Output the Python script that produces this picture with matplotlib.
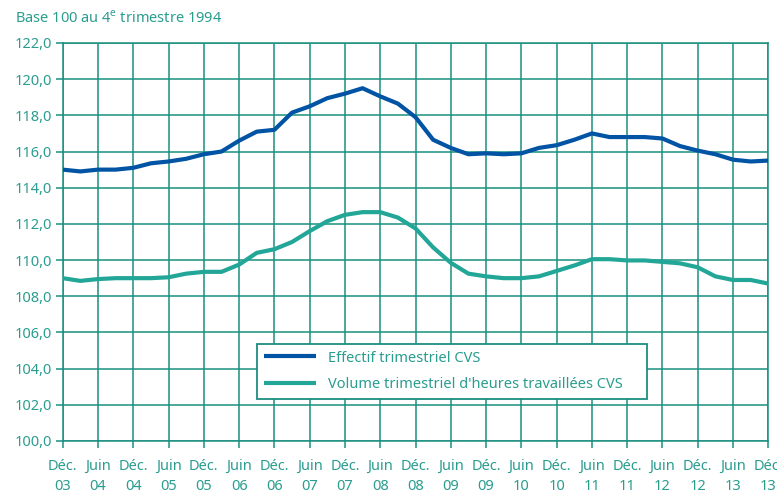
import matplotlib
matplotlib.use("Agg")
import matplotlib.pyplot as plt
from matplotlib.ticker import MultipleLocator, FixedLocator

plt.rcParams['font.family'] = ['Noto Sans', 'DejaVu Sans']
plt.rcParams['mathtext.fontset'] = 'custom'
plt.rcParams['mathtext.rm'] = 'Noto Sans'

# Quarterly data, Dec 2003 .. Dec 2013 (41 quarters)
effectif = [115.0, 114.9, 115.0, 115.0, 115.1, 115.35, 115.45, 115.6, 115.85, 116.0,
            116.6, 117.1, 117.2, 118.15, 118.5, 118.95, 119.2, 119.5, 119.05, 118.65,
            117.9, 116.65, 116.2, 115.85, 115.9, 115.85, 115.9, 116.2, 116.35, 116.65,
            117.0, 116.8, 116.8, 116.8, 116.72, 116.3, 116.05, 115.85, 115.55, 115.45,
            115.5]
volume = [109.0, 108.85, 108.95, 109.0, 109.0, 109.0, 109.05, 109.25, 109.35, 109.35,
          109.75, 110.4, 110.6, 111.0, 111.6, 112.15, 112.5, 112.65, 112.65, 112.35,
          111.75, 110.7, 109.85, 109.25, 109.1, 109.0, 109.0, 109.1, 109.4, 109.7,
          110.05, 110.05, 109.98, 109.98, 109.9, 109.82, 109.6, 109.1, 108.9, 108.9,
          108.7]
tick_labels = ["Déc.\n03", "Juin\n04", "Déc.\n04", "Juin\n05", "Déc.\n05", "Juin\n06",
               "Déc.\n06", "Juin\n07", "Déc.\n07", "Juin\n08", "Déc.\n08", "Juin\n09",
               "Déc.\n09", "Juin\n10", "Déc.\n10", "Juin\n11", "Déc.\n11", "Juin\n12",
               "Déc.\n12", "Juin\n13", "Déc.\n13"]
series_names = ["Effectif trimestriel CVS", "Volume trimestriel d'heures travaillées CVS"]

teal_text = "#2a9d8f"
grid_col = "#1b8f80"
blue = "#0054a3"
teal_line = "#22a697"

fig = plt.figure(figsize=(7.77, 4.93), dpi=100)
ax = fig.add_axes([0.0807, 0.1055, 0.9081, 0.8073])

x = list(range(len(effectif)))
ax.plot(x, effectif, color=blue, lw=3.0, label=series_names[0], solid_capstyle='butt', zorder=3)
ax.plot(x, volume, color=teal_line, lw=3.0, label=series_names[1], solid_capstyle='butt', zorder=3)

ax.set_xlim(0, 40)
ax.set_ylim(100, 122)
ax.yaxis.set_major_locator(MultipleLocator(2))
ax.yaxis.set_major_formatter(plt.FuncFormatter(lambda v, p: f"{v:.1f}".replace(".", ",")))
ax.xaxis.set_major_locator(FixedLocator(list(range(0, 41, 2))))
ax.set_xticklabels(tick_labels, linespacing=1.45)

ax.grid(True, color=grid_col, lw=1.1)
ax.set_axisbelow(True)
for s in ax.spines.values():
    s.set_color(grid_col)
    s.set_linewidth(1.1)

ax.tick_params(axis='both', colors=grid_col, labelcolor=teal_text, labelsize=10.5,
               length=5, width=1.1, direction='out')
ax.tick_params(axis='x', pad=8)
ax.tick_params(axis='y', pad=3)

leg = ax.legend(loc='upper left', bbox_to_anchor=(0.2758, 0.111, 0.552, 0.1327),
                mode='expand', frameon=True, fancybox=False, handlelength=3.6,
                handletextpad=0.8, borderpad=0.45, labelspacing=0.8, fontsize=10.5,
                borderaxespad=0)
leg.get_frame().set_edgecolor(grid_col)
leg.get_frame().set_linewidth(1.3)
leg.get_frame().set_facecolor('white')
leg.get_frame().set_alpha(1)
for t in leg.get_texts():
    t.set_color(teal_text)

fig.text(0.0193, 0.955, "Base 100 au 4$^{\\mathrm{e}}$ trimestre 1994", color=teal_text,
         fontsize=10.5, ha='left', va='baseline')

fig.savefig("out.png", dpi=100)
